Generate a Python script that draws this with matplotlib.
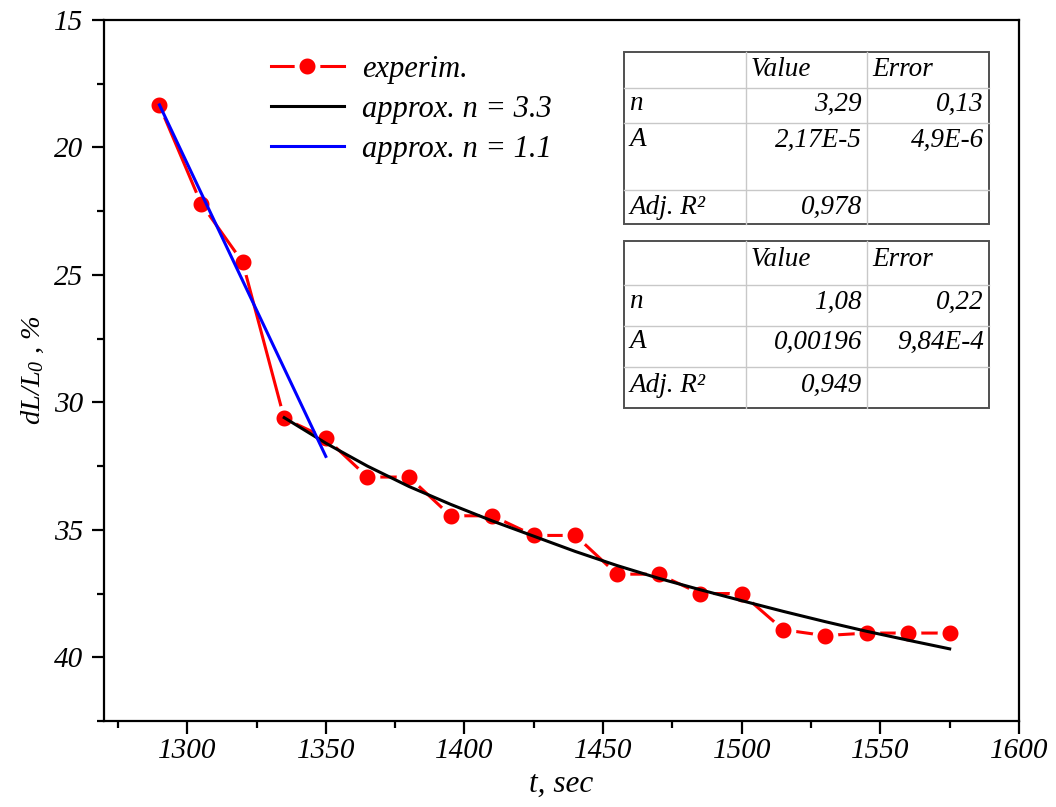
import matplotlib
matplotlib.use("Agg")
import matplotlib.pyplot as plt
from matplotlib.transforms import Affine2D
from matplotlib.ticker import MultipleLocator

# experimental points
t_exp = [1290, 1305, 1320, 1335, 1350, 1365, 1380, 1395, 1410, 1425,
         1440, 1455, 1470, 1485, 1500, 1515, 1530, 1545, 1560, 1575]
dl_exp = [18.35, 22.2, 24.5, 30.63, 31.4, 32.93, 32.93, 34.45, 34.45, 35.22,
          35.22, 36.74, 36.74, 37.5, 37.5, 38.92, 39.15, 39.05, 39.05, 39.05]

# fit n = 3.3
t_fit1 = [1335, 1350, 1365, 1380, 1395, 1410, 1425, 1440, 1455, 1470,
          1485, 1500, 1515, 1530, 1545, 1560, 1575]
dl_fit1 = [30.6, 31.6, 32.5, 33.3, 34.0, 34.65, 35.25, 35.85, 36.4, 36.9,
           37.35, 37.78, 38.2, 38.6, 38.98, 39.33, 39.67]

# fit n = 1.1
t_fit2 = [1290, 1350]
dl_fit2 = [18.33, 32.12]

labels = ["experim.", "approx. n = 3.3", "approx. n = 1.1"]

table1 = [["", "Value", "Error"],
          ["n", "3,29", "0,13"],
          ["A", "2,17E-5", "4,9E-6"],
          ["Adj. R²", "0,978", ""]]
table2 = [["", "Value", "Error"],
          ["n", "1,08", "0,22"],
          ["A", "0,00196", "9,84E-4"],
          ["Adj. R²", "0,949", ""]]

plt.rcParams["font.family"] = "Liberation Serif"
plt.rcParams["font.style"] = "italic"
plt.rcParams["mathtext.fontset"] = "custom"
plt.rcParams["mathtext.rm"] = "Liberation Serif:italic"
plt.rcParams["mathtext.it"] = "Liberation Serif:italic"

W, H = 1056, 807
fig = plt.figure(figsize=(W / 100, H / 100), dpi=100)
ax = fig.add_axes([104 / W, 1 - 721 / H, (1019 - 104) / W, (721 - 20) / H])

ax.plot(t_exp, dl_exp, color="#ff0000", lw=2.2, marker="o", ms=15,
        mfc="#ff0000", mec="white", mew=3.5, zorder=2, label=labels[0])
ax.plot(t_fit1, dl_fit1, color="black", lw=2.2, zorder=3, label=labels[1])
ax.plot(t_fit2, dl_fit2, color="#0000ff", lw=2.2, zorder=3, label=labels[2])

ax.set_xlim(1270, 1600)
ax.set_ylim(42.5, 15)
ax.xaxis.set_major_locator(MultipleLocator(50))
ax.xaxis.set_minor_locator(MultipleLocator(25))
ax.yaxis.set_major_locator(MultipleLocator(5))
ax.yaxis.set_minor_locator(MultipleLocator(2.5))
ax.tick_params(which="both", direction="out", width=1.6, labelsize=21,
               top=False, right=False)
ax.tick_params(which="major", length=9)
ax.tick_params(which="minor", length=5)
ax.tick_params(axis="y", which="major", pad=6)
for s in ax.spines.values():
    s.set_linewidth(1.6)

ax.set_xlabel("t, sec", fontsize=22.5, labelpad=4)
ax.set_ylabel(r"$dL/L_0$ , %", fontsize=20.5, labelpad=6)

ax.legend(loc="upper left", bbox_to_anchor=(0.152, 0.99), frameon=False,
          fontsize=22, handlelength=2.4, handletextpad=0.6,
          labelspacing=0.37)

# tables drawn in figure pixel coords
px = Affine2D().scale(1 / W, -1 / H).translate(0, 1) + fig.transFigure


def draw_table(rows, x_edges, y_edges, text_y):
    x0, x1 = x_edges[0], x_edges[-1]
    y0, y1 = y_edges[0], y_edges[-1]
    for x in x_edges[1:-1]:
        fig.add_artist(plt.Line2D([x, x], [y0, y1], transform=px,
                                  color="#c8c8c8", lw=1))
    for y in y_edges[1:-1]:
        fig.add_artist(plt.Line2D([x0, x1], [y, y], transform=px,
                                  color="#c8c8c8", lw=1))
    fig.add_artist(plt.Rectangle((x0, y0), x1 - x0, y1 - y0, transform=px,
                                 fill=False, ec="#505050", lw=1.4))
    for r, row in enumerate(rows):
        for c, txt in enumerate(row):
            if r == 0 or c == 0:
                fig.text(x_edges[c] + 5, text_y[r], txt, transform=px,
                         ha="left", va="center", fontsize=19.5)
            else:
                fig.text(x_edges[c + 1] - 5, text_y[r], txt, transform=px,
                         ha="right", va="center", fontsize=19.5)


draw_table(table1, [624, 746, 867, 989], [52, 88, 123, 190, 224],
           [70, 104, 140, 207])
draw_table(table2, [624, 746, 867, 989], [241, 285, 326, 367, 408],
           [260, 302, 342, 385])

fig.savefig("out.png", dpi=100)
